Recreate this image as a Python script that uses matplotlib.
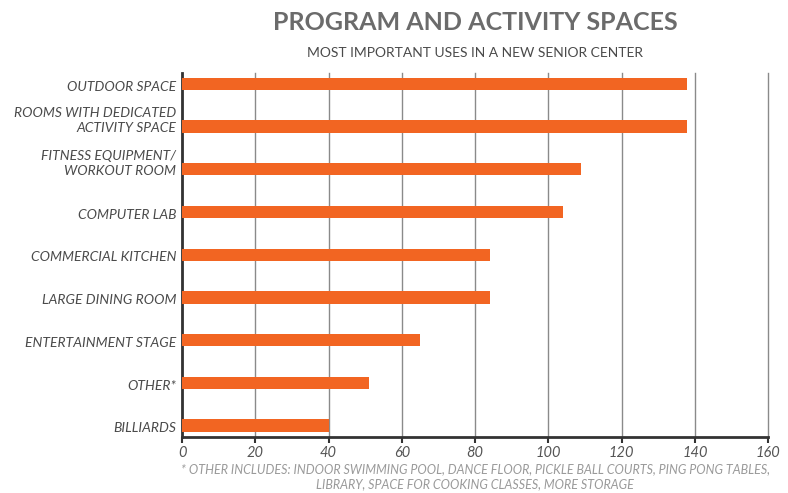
import matplotlib.pyplot as plt
from matplotlib.transforms import offset_copy

# Survey results: most important uses in a new senior center
categories = [
    "OUTDOOR SPACE",
    "ROOMS WITH DEDICATED\nACTIVITY SPACE",
    "FITNESS EQUIPMENT/\nWORKOUT ROOM",
    "COMPUTER LAB",
    "COMMERCIAL KITCHEN",
    "LARGE DINING ROOM",
    "ENTERTAINMENT STAGE",
    "OTHER*",
    "BILLIARDS",
]
responses = [138, 138, 109, 104, 84, 84, 65, 51, 40]
x_ticks = [0, 20, 40, 60, 80, 100, 120, 140, 160]

title = "PROGRAM AND ACTIVITY SPACES"
subtitle = "MOST IMPORTANT USES IN A NEW SENIOR CENTER"
footnote = ("* OTHER INCLUDES: INDOOR SWIMMING POOL, DANCE FLOOR, PICKLE BALL COURTS, PING PONG TABLES,\n"
            "LIBRARY, SPACE FOR COOKING CLASSES, MORE STORAGE")

plt.rcParams["font.family"] = ["Lato", "DejaVu Sans"]

fig = plt.figure(figsize=(7.88, 4.93), dpi=100)
ax = fig.add_axes([0.231, 0.1142, 0.7437, 0.7383])

pos = list(range(len(categories)))
ax.barh(pos, responses, height=0.29, color="#f26522", zorder=3)

ax.set_xlim(0, 160)
ax.set_ylim(len(categories) - 1 + 0.26, -0.26)
ax.set_xticks(x_ticks)
ax.set_xticklabels([str(t) for t in x_ticks], fontsize=10.5, style="italic",
                   color="#555555")
ax.set_yticks([])

ax.grid(axis="x", color="#8a8a8a", linewidth=1, zorder=0)
for gl in ax.get_xgridlines():
    gl.set_clip_on(False)
for s in ["top", "right"]:
    ax.spines[s].set_visible(False)
for s in ["left", "bottom"]:
    ax.spines[s].set_color("#333333")
    ax.spines[s].set_linewidth(2)
ax.tick_params(axis="x", length=4, width=1.5, color="#333333", pad=3)

# category labels; two-line labels keep the lower line beside the bar
for i, lab in enumerate(categories):
    n_lines = lab.count("\n")
    tr = offset_copy(ax.get_yaxis_transform(), fig=fig, x=-4,
                     y=-2 + 6.5 * n_lines, units="points")
    ax.text(0, i, lab, transform=tr, ha="right", va="center", fontsize=10,
            style="italic", color="#4a4a4a", linespacing=1.3)

fig.text(0.603, 0.955, title, ha="center", va="center", fontsize=18,
         fontweight="bold", color="#6b6b6b")
fig.text(0.603, 0.892, subtitle, ha="center", va="center", fontsize=10,
         color="#4a4a4a")
fig.text(0.603, 0.033, footnote, ha="center", va="center", fontsize=9,
         style="italic", color="#9a9a9a", linespacing=1.3)

fig.savefig("out.png", dpi=100)
